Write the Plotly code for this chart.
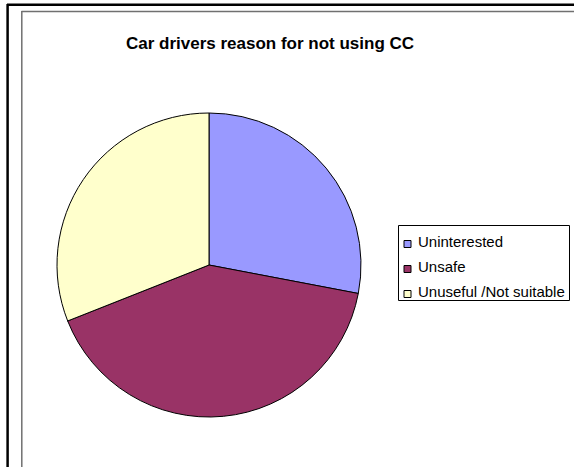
import plotly.graph_objects as go

# Survey shares (percent) of reasons car drivers gave for not using CC
reasons = ["Uninterested", "Unsafe", "Unuseful /Not suitable"]
shares = [28, 41, 31]
colors = ["#9999FF", "#993366", "#FFFFCC"]

W, H = 574, 467
FONT = "Liberation Sans, Arial, sans-serif"


def px(x):
    return x / W


def py(y):
    return 1 - y / H


fig = go.Figure(
    go.Pie(
        labels=reasons,
        values=shares,
        sort=False,
        direction="clockwise",
        rotation=0,
        textinfo="none",
        hoverinfo="label+percent",
        showlegend=False,
        marker=dict(colors=colors, line=dict(color="black", width=1)),
        domain=dict(x=[px(57), px(361)], y=[py(417), py(113)]),
    )
)

# Outer black frame and inner gray chart-area border (top and left edges)
shapes = [
    dict(type="line", xref="paper", yref="paper", x0=px(7), x1=1, y0=py(4.8), y1=py(4.8),
         line=dict(color="black", width=2.5)),
    dict(type="line", xref="paper", yref="paper", x0=px(7.6), x1=px(7.6), y0=0, y1=py(4),
         line=dict(color="black", width=2.5)),
    dict(type="line", xref="paper", yref="paper", x0=px(21.5), x1=1, y0=py(11.5), y1=py(11.5),
         line=dict(color="#707070", width=1.5)),
    dict(type="line", xref="paper", yref="paper", x0=px(21.8), x1=px(21.8), y0=0, y1=py(11),
         line=dict(color="#707070", width=1.5)),
    # legend box
    dict(type="rect", xref="paper", yref="paper", x0=px(398.5), x1=px(569.5), y0=py(300.5), y1=py(225.5),
         line=dict(color="black", width=1), fillcolor="white"),
]

annotations = []
# legend entries: small swatch plus label
row_text_y = [241, 266, 291]
for i, (name, col) in enumerate(zip(reasons, colors)):
    cy = row_text_y[i] + 3
    shapes.append(dict(type="rect", xref="paper", yref="paper",
                       x0=px(404), x1=px(411), y0=py(cy + 3.5), y1=py(cy - 3.5),
                       line=dict(color="black", width=1), fillcolor=col))
    annotations.append(dict(text=name, xref="paper", yref="paper",
                            x=px(416), y=py(row_text_y[i]), xanchor="left", yanchor="middle",
                            showarrow=False, font=dict(family=FONT, size=15, color="black")))

fig.update_layout(
    width=W,
    height=H,
    margin=dict(l=0, r=0, t=0, b=0),
    paper_bgcolor="white",
    plot_bgcolor="white",
    font=dict(family=FONT, size=12, color="black"),
    title=dict(
        text="<b>Car drivers reason for not using CC</b>",
        x=px(270),
        xanchor="center",
        y=py(43),
        yanchor="middle",
        font=dict(family=FONT, size=17, color="black"),
    ),
    shapes=shapes,
    annotations=annotations,
)

fig.write_html("out.html")
